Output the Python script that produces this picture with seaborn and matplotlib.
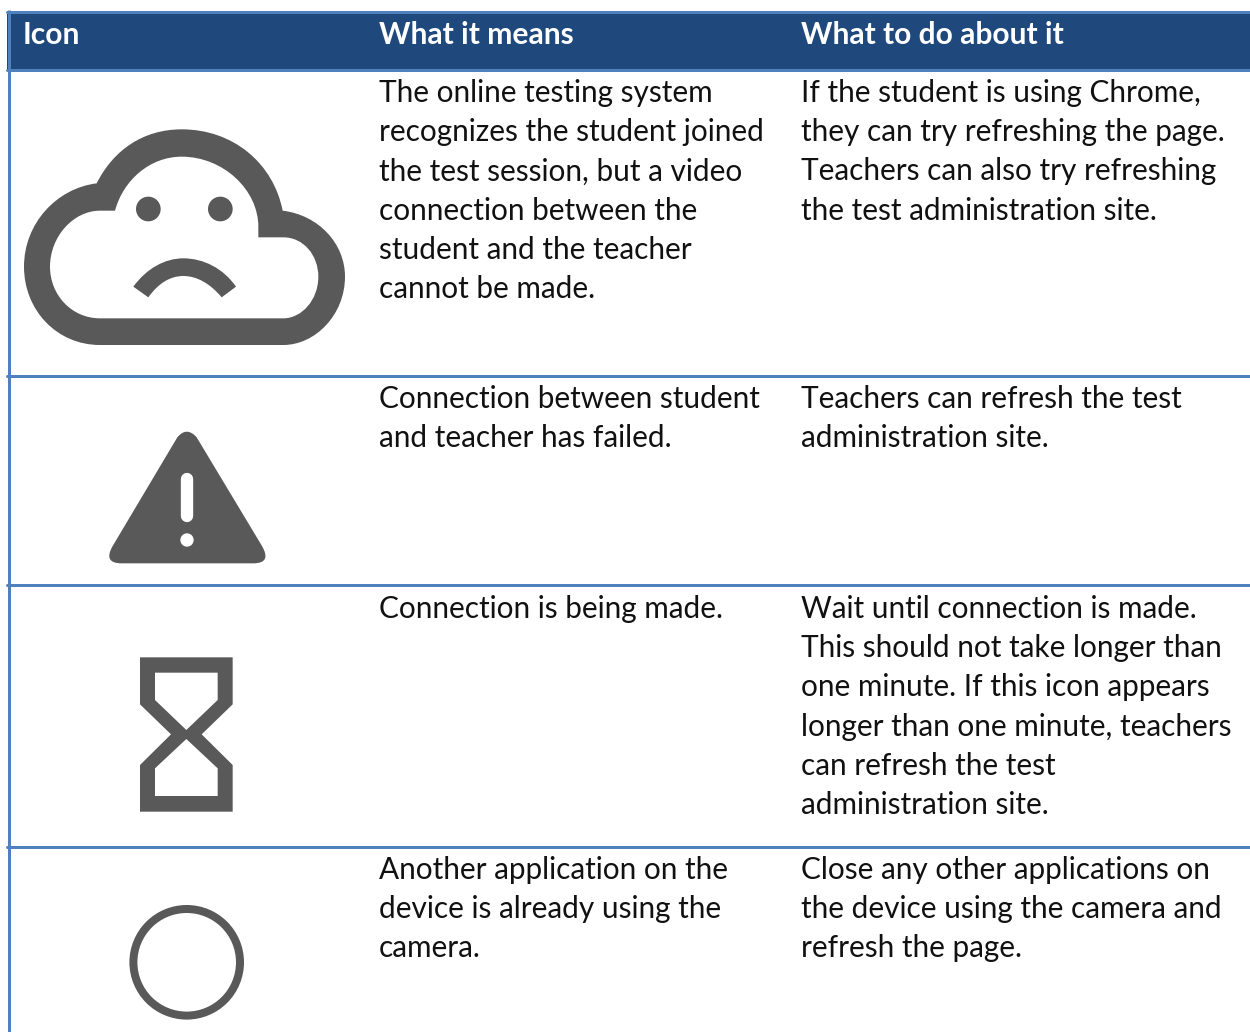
import matplotlib

matplotlib.use("Agg")
import matplotlib.pyplot as plt
import seaborn as sns
from matplotlib.patches import Circle, PathPatch
from matplotlib.path import Path
from matplotlib.transforms import Affine2D

sns.set_theme(style="white")
plt.rcParams["font.family"] = ["Lato", "DejaVu Sans"]

BASLIKLAR = ["Icon", "What it means", "What to do about it"]
BASLIK_X = [23, 379, 801]

ANLAM = [
    ["The online testing system", "recognizes the student joined", "the test session, but a video",
     "connection between the", "student and the teacher", "cannot be made."],
    ["Connection between student", "and teacher has failed."],
    ["Connection is being made."],
    ["Another application on the", "device is already using the", "camera."],
]
YAPILACAK = [
    ["If the student is using Chrome,", "they can try refreshing the page.",
     "Teachers can also try refreshing", "the test administration site."],
    ["Teachers can refresh the test", "administration site."],
    ["Wait until connection is made.", "This should not take longer than",
     "one minute. If this icon appears", "longer than one minute, teachers",
     "can refresh the test", "administration site."],
    ["Close any other applications on", "the device using the camera and", "refresh the page."],
]
SATIR_Y = [102, 408, 618, 879]  # her satirin ilk metin taban cizgisi
SATIR_ARALIK = 39.2
CIZGI_Y = [375.5, 584.5, 846.5]

KOYU = "#1F497D"
KENAR = "#4F81BD"
IKON = "#595959"
PX = 0.72  # 100 dpi'de 1 piksel = 0.72 pt
SOL = 7 / 1250


def yol(komutlar):
    """M/L/C/Q/Z listesinden Path kurar."""
    noktalar, kodlar = [], []
    for k in komutlar:
        if k[0] == "M":
            noktalar.append(k[1]); kodlar.append(Path.MOVETO)
        elif k[0] == "L":
            noktalar.append(k[1]); kodlar.append(Path.LINETO)
        elif k[0] == "C":
            noktalar.extend(k[1:]); kodlar.extend([Path.CURVE4] * 3)
        elif k[0] == "Q":
            noktalar.extend(k[1:]); kodlar.extend([Path.CURVE3] * 2)
        else:
            noktalar.append(noktalar[-1]); kodlar.append(Path.CLOSEPOLY)
    return Path(noktalar, kodlar)


def poligon(dis, *delikler):
    # delikler ters yonde olmali, yoksa dolu cizilir
    komutlar = [("M", dis[0])] + [("L", p) for p in dis[1:]] + [("Z",)]
    for h in delikler:
        h = h[::-1]
        komutlar += [("M", h[0])] + [("L", p) for p in h[1:]] + [("Z",)]
    return yol(komutlar)


def ciz(ax, p, x0, y0, renk=IKON):
    t = Affine2D().scale(1 / 3).translate(x0, y0) + ax.transData
    ax.add_patch(PathPatch(p, facecolor=renk, edgecolor="none", transform=t))


def bulut(ax):
    govde = yol([
        ("M", (300, 1035)),
        ("C", (170, 1035), (72, 930), (72, 800)),
        ("C", (72, 670), (170, 565), (290, 550)),
        ("C", (340, 450), (430, 388), (545, 388)),
        ("C", (700, 388), (820, 490), (848, 632)),
        ("C", (955, 645), (1035, 730), (1035, 830)),
        ("C", (1035, 945), (945, 1035), (850, 1035)),
        ("Z",),
        ("M", (300, 955)),
        ("L", (850, 955)),
        ("C", (905, 955), (955, 900), (955, 830)),
        ("C", (955, 765), (910, 712), (850, 712)),
        ("L", (775, 712)),
        ("L", (775, 680)),
        ("C", (775, 570), (670, 470), (545, 470)),
        ("C", (450, 470), (370, 540), (345, 632)),
        ("L", (300, 632)),
        ("C", (220, 632), (150, 710), (150, 800)),
        ("C", (150, 885), (215, 955), (300, 955)),
        ("Z",),
    ])
    ciz(ax, govde, 0, 0)
    agiz = yol([
        ("M", (400, 860)),
        ("C", (440, 805), (495, 775), (550, 775)),
        ("C", (610, 775), (670, 805), (708, 860)),
        ("L", (665, 892)),
        ("C", (630, 850), (590, 828), (550, 828)),
        ("C", (510, 828), (475, 850), (445, 892)),
        ("Z",),
    ])
    ciz(ax, agiz, 0, 0)
    for x in [445 / 3, 661 / 3]:
        ax.add_patch(Circle((x, 627 / 3), 37 / 3, color=IKON, lw=0))


def ucgen(ax):
    p = yol([
        ("M", (262, 82)),
        ("Q", (290, 48), (320, 82)),
        ("L", (516, 408)),
        ("Q", (546, 460), (490, 460)),
        ("L", (95, 460)),
        ("Q", (38, 460), (68, 408)),
        ("Z",),
    ])
    ciz(ax, p, 90, 410)
    ax.plot([187, 187], [410 + 208 / 3, 410 + 317 / 3], color="white", lw=37 / 3 * PX,
            solid_capstyle="round")
    ax.add_patch(Circle((187, 410 + 390 / 3), 20 / 3, color="white", lw=0))


def kum_saati(ax):
    p = poligon(
        [(90, 52), (368, 52), (368, 193), (275, 283), (368, 375), (368, 515),
         (90, 515), (90, 375), (183, 283), (90, 193)],
        [(135, 98), (323, 98), (323, 180), (229, 270), (135, 180)],
        [(135, 385), (229, 297), (323, 385), (323, 468), (135, 468)],
    )
    ciz(ax, p, 110, 640)


def daire(ax):
    ax.add_patch(Circle((186.7, 962.3), 53.3, facecolor="none", edgecolor=IKON, lw=8 * PX))


def main():
    fig, ax = plt.subplots(figsize=(12.5, 10.32), dpi=100)
    ax.set_position([0, 0, 1, 1])
    ax.set_xlim(0, 1250)
    ax.set_ylim(1032, 0)
    ax.axis("off")
    sns.despine(ax=ax, left=True, bottom=True)

    # baslik bandi ve kenarlar
    ax.axhspan(11, 70, xmin=SOL, color=KOYU, lw=0)
    for y in [11.5, 69.5] + CIZGI_Y:
        ax.axhline(y, xmin=SOL, color=KENAR, lw=3 * PX)
    ax.plot([8.5, 8.5], [10, 1032], color=KENAR, lw=3 * PX, solid_capstyle="butt")

    for b, x in zip(BASLIKLAR, BASLIK_X):
        ax.text(x, 43.5, b, color="white", fontsize=21.6, fontweight="bold", va="baseline")

    for y0, anlam, yap in zip(SATIR_Y, ANLAM, YAPILACAK):
        for x, satirlar in [(BASLIK_X[1], anlam), (BASLIK_X[2], yap)]:
            for i, s in enumerate(satirlar):
                ax.text(x, y0 + i * SATIR_ARALIK, s, color="#111111", fontsize=21.45, va="baseline")

    bulut(ax)
    ucgen(ax)
    kum_saati(ax)
    daire(ax)

    fig.savefig("out.png", dpi=100)
    plt.close(fig)


if __name__ == "__main__":
    main()
